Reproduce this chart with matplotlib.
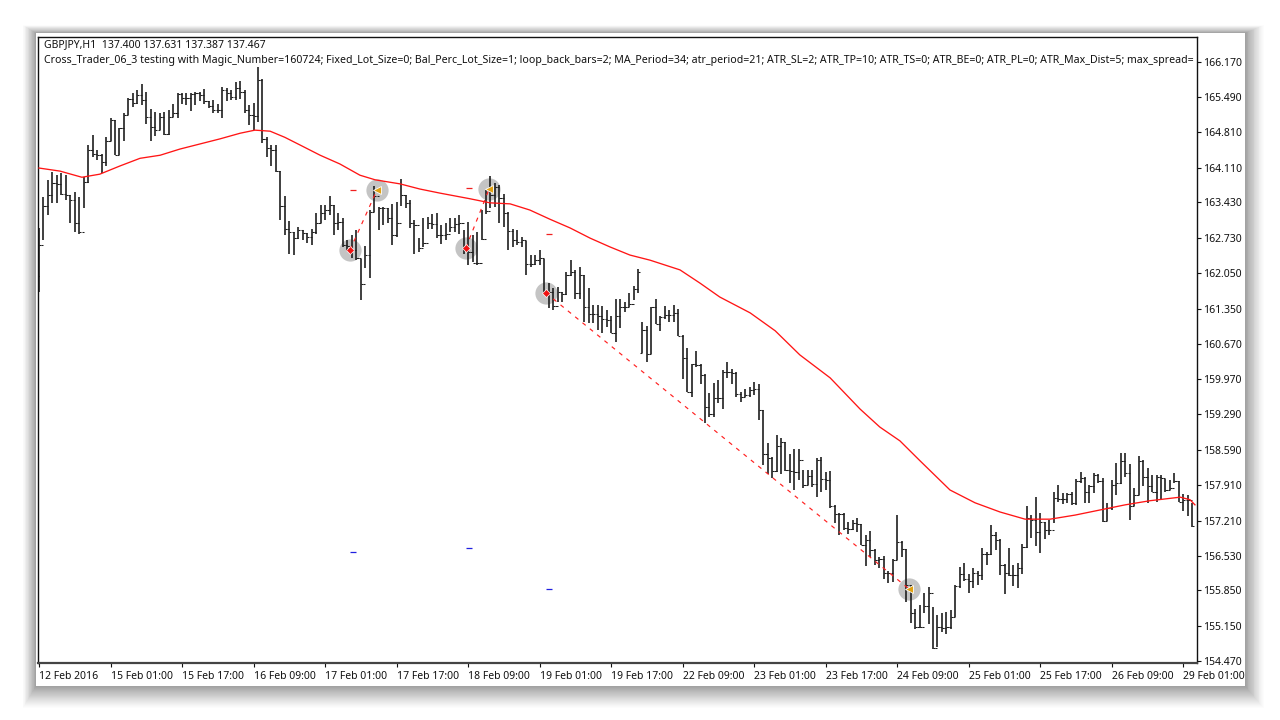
import matplotlib
matplotlib.use("Agg")
import matplotlib.pyplot as plt
from matplotlib.patches import Rectangle
import numpy as np

title_quote = "GBPJPY,H1  137.400 137.631 137.387 137.467"
title_ea = ("Cross_Trader_06_3 testing with Magic_Number=160724; Fixed_Lot_Size=0; Bal_Perc_Lot_Size=1; "
            "loop_back_bars=2; MA_Period=34; atr_period=21; ATR_SL=2; ATR_TP=10; ATR_TS=0; ATR_BE=0; "
            "ATR_PL=0; ATR_Max_Dist=5; max_spread=")

highs = [162.93,163.53,163.87,164.03,163.96,164.00,163.96,163.57,163.64,163.54,
163.93,164.55,164.74,164.46,164.37,164.70,165.07,165.04,164.88,165.17,
165.46,165.56,165.62,165.74,165.59,165.25,165.20,165.18,165.20,165.23,
165.36,165.57,165.56,165.56,165.57,165.58,165.59,165.64,165.40,165.42,
165.36,165.69,165.66,165.62,165.79,165.81,165.62,165.33,165.38,166.07,
165.83,164.70,164.55,164.55,164.05,163.55,163.07,162.86,162.94,162.89,
162.84,162.90,163.23,163.38,163.38,163.55,163.38,163.22,163.12,162.69,
162.79,162.88,162.32,162.57,163.28,163.75,163.34,163.34,163.31,163.40,
163.44,163.88,163.57,163.47,163.09,162.73,163.12,163.15,163.21,163.23,
162.99,163.02,163.12,163.12,163.18,162.89,163.05,162.79,162.85,163.28,
163.67,163.94,163.81,163.77,163.60,163.25,162.90,162.89,162.76,162.68,
162.40,162.40,162.50,162.33,161.85,161.75,161.78,161.68,162.07,162.30,
162.11,162.17,162.01,161.75,161.42,161.42,161.40,161.33,161.20,161.55,
161.55,161.49,161.65,161.79,162.12,161.10,161.01,161.39,161.55,161.21,
161.40,161.32,161.42,161.34,160.84,160.59,160.28,160.53,160.28,160.07,
159.70,159.90,159.96,160.15,160.31,160.18,160.12,159.73,159.79,159.83,
159.92,159.88,159.38,158.72,158.46,158.88,158.82,158.75,158.51,158.62,
158.62,158.20,158.21,158.21,158.43,158.46,158.17,158.19,157.52,157.37,
157.37,157.19,157.22,157.26,157.15,156.93,157.01,156.65,156.51,156.52,
156.23,156.46,157.32,156.82,156.65,155.95,155.48,155.56,155.80,155.92,
155.53,155.37,155.40,155.43,155.47,155.95,156.31,156.38,156.17,156.28,
156.23,156.67,156.60,157.12,156.99,156.86,156.37,156.67,156.35,156.38,
156.76,157.49,157.32,157.68,157.36,157.19,157.23,157.78,157.91,157.75,
157.76,157.78,158.02,158.17,158.06,157.91,158.14,158.12,158.04,157.55,
158.01,158.33,158.54,158.54,158.32,157.85,158.48,158.39,158.24,158.11,
158.11,158.11,158.02,158.01,158.14,157.98,157.74,157.72,157.55]

lows = [161.68,162.70,163.18,163.41,163.41,163.57,163.47,163.02,162.86,162.82,
163.31,163.80,164.32,164.26,164.00,164.13,164.62,164.35,164.35,164.62,
165.14,165.30,165.36,165.33,164.97,164.62,164.73,164.84,164.74,164.74,
165.10,165.07,165.36,165.33,165.22,165.33,165.40,165.36,165.27,165.17,
165.17,165.07,165.40,165.43,165.42,165.44,165.17,164.94,164.84,164.99,
164.58,164.31,164.14,164.03,163.09,162.79,162.43,162.41,162.71,162.69,
162.64,162.60,162.81,163.02,163.09,163.18,162.79,162.89,162.56,162.47,
162.34,162.30,161.53,162.15,161.95,163.25,162.89,162.99,163.02,162.60,
162.76,163.35,163.31,162.92,162.43,162.45,162.56,162.90,162.90,162.73,
162.61,162.69,162.86,162.86,162.82,162.43,162.20,162.27,162.20,162.69,
163.21,163.31,163.34,163.02,162.95,162.50,162.56,162.60,162.56,162.01,
162.17,162.20,162.20,161.65,161.36,161.33,161.49,161.49,161.62,161.99,
161.55,161.55,161.10,161.07,161.07,160.93,160.87,161.00,160.87,160.71,
160.97,161.29,161.39,161.53,161.66,160.48,160.31,160.46,161.06,160.92,
161.16,161.10,161.10,160.82,159.97,159.73,159.62,160.22,159.89,159.12,
159.24,159.23,159.51,159.40,159.99,159.89,159.63,159.53,159.62,159.63,
159.66,159.17,158.30,158.13,158.04,158.17,158.13,158.19,157.94,157.81,
158.00,157.84,157.91,157.87,157.68,157.78,157.81,157.45,157.16,156.93,
157.03,156.96,157.03,156.99,156.73,156.32,156.51,156.34,156.28,156.08,
155.99,156.02,156.44,156.50,155.63,155.22,155.09,155.11,155.40,155.20,
154.70,154.75,155.04,155.00,155.09,155.32,155.89,156.04,155.80,155.89,
155.95,156.05,156.34,156.54,156.64,156.15,155.78,156.12,155.93,155.89,
156.17,156.67,156.87,156.71,156.58,156.85,156.93,157.16,157.57,157.54,
157.55,157.52,157.52,157.94,157.55,157.55,157.75,157.94,157.18,157.20,
157.42,157.72,157.93,158.07,157.23,157.49,157.72,157.88,157.55,157.78,
157.57,157.62,157.78,157.81,157.94,157.57,157.39,157.31,157.08]

closes = [162.60,163.35,163.57,163.80,163.79,163.60,163.58,163.47,163.02,162.86,
163.83,164.45,164.37,164.35,164.22,164.62,165.04,164.35,164.88,165.14,
165.44,165.38,165.53,165.42,165.10,164.91,164.84,165.10,164.76,165.10,
165.18,165.55,165.46,165.46,165.54,165.56,165.53,165.40,165.31,165.23,
165.23,165.62,165.57,165.49,165.66,165.59,165.23,165.14,165.12,165.82,
164.66,164.50,164.46,164.05,163.36,162.90,162.86,162.73,162.89,162.84,
162.76,162.86,163.03,163.22,163.28,163.38,163.03,163.05,162.60,162.58,
162.50,162.35,161.84,162.40,163.24,163.55,163.31,163.31,163.12,162.79,
163.02,163.57,163.41,163.02,162.99,162.53,162.63,163.02,163.00,162.79,
162.79,162.82,162.95,163.00,163.02,162.53,162.45,162.25,162.24,162.71,
163.27,163.57,163.73,163.51,163.23,162.87,162.69,162.66,162.69,162.22,
162.22,162.30,162.35,161.68,161.68,161.40,161.68,161.64,162.01,162.07,
161.65,162.01,161.39,161.25,161.24,161.20,161.16,161.13,160.88,161.20,
161.39,161.39,161.45,161.73,162.07,160.93,160.46,161.38,161.06,161.18,
161.23,161.23,161.26,160.82,160.38,159.73,160.27,160.25,160.05,159.44,
159.29,159.60,159.60,160.12,160.12,160.09,159.68,159.63,159.66,159.77,
159.79,159.37,158.52,158.43,158.19,158.67,158.75,158.20,158.19,158.17,
158.39,157.91,158.08,157.93,158.39,158.02,158.00,157.50,157.35,157.35,
157.06,157.04,157.16,157.15,156.73,156.83,156.64,156.44,156.47,156.19,
156.19,156.44,156.80,156.65,155.95,155.41,155.14,155.14,155.54,155.79,
154.73,155.14,155.12,155.14,155.32,155.93,156.17,156.08,156.04,156.19,
156.15,156.56,156.56,156.93,156.83,156.34,156.18,156.15,156.15,156.28,
156.69,157.26,157.23,156.98,157.18,157.02,157.02,157.65,157.63,157.63,
157.73,157.55,157.99,158.04,157.78,157.88,158.11,157.98,157.20,157.46,
157.91,157.94,158.37,158.14,157.49,157.72,158.37,158.06,157.88,157.78,
158.06,158.04,157.81,157.85,157.98,157.58,157.62,157.62,157.10]

first_open = 162.00
gap_opens = {135: 160.48}   # weekend gap: this bar does not open at the prior close

ma_bars = [0,4.7,9.6,13.6,18.1,22.6,27.1,31.5,36,40.5,45,48.3,51.7,55,58.4,62.9,67.3,71.8,75.2,80.8,85.2,
           89.7,96.4,100.9,105.4,109.8,114.3,118.8,123.3,127.7,132.2,136.7,143.4,147.9,152.3,159.1,164.7,
           170.2,177,183.7,188.1,192.6,197.1,203.8,209.4,215,220.6,226.2,231.8,238.5,243,248.5,255.3,257.5,258.6]
ma_values = [164.10,164.04,163.92,163.98,164.14,164.29,164.35,164.47,164.57,164.67,164.78,164.84,164.82,164.70,
             164.55,164.35,164.18,163.96,163.87,163.79,163.69,163.61,163.50,163.42,163.40,163.28,163.10,162.93,
             162.73,162.56,162.40,162.30,162.11,161.85,161.58,161.27,160.92,160.45,160.00,159.39,159.04,158.77,
             158.38,157.81,157.56,157.38,157.24,157.24,157.32,157.44,157.52,157.60,157.67,157.62,157.52]

entry_bars = [69.6, 95.5, 113.4]
entry_prices = [162.50, 162.54, 161.66]
exit_bars = [75.6, 100.7, 194.6]
exit_prices = [163.67, 163.69, 155.88]
tp_prices = [156.60, 156.68, 155.88]
sl_prices = [163.67, 163.71, 162.81]

y_ticks = [166.170,165.490,164.810,164.110,163.430,162.730,162.050,161.350,160.670,159.970,159.290,
           158.590,157.910,157.210,156.530,155.850,155.150,154.470]
x_tick_labels = ["12 Feb 2016","15 Feb 01:00","15 Feb 17:00","16 Feb 09:00","17 Feb 01:00","17 Feb 17:00",
                 "18 Feb 09:00","19 Feb 01:00","19 Feb 17:00","22 Feb 09:00","23 Feb 01:00","23 Feb 17:00",
                 "24 Feb 09:00","25 Feb 01:00","25 Feb 17:00","26 Feb 09:00","29 Feb 01:00"]
bars_per_x_tick = 16

W, H = 1280, 720
FONT = "Noto Sans"
fig = plt.figure(figsize=(W/100, H/100), dpi=100, facecolor="white")

def box(x0, y0, x1, y1, **kw):
    fig.add_artist(Rectangle((x0/W, 1-y1/H), (x1-x0)/W, (y1-y0)/H, transform=fig.transFigure,
                             lw=0, zorder=-10, **kw))

# window drop shadow, heavier towards the lower right
for k in range(22, 0, -1):
    box(36-k*0.6, 33-k*0.35, 1245+k*0.85, 686+k*1.0, facecolor="black", alpha=0.012 + 0.0006*(22-k))
box(36, 33, 1245, 686, facecolor="white")

ax = fig.add_axes([38/W, 1-663/H, (1197-38)/W, (663-37)/H], facecolor="white")
ax.set_xlim(-0.22, 259.06)
ax.set_ylim(154.43, 166.66)

n = np.arange(len(closes))
h, l, c = np.array(highs), np.array(lows), np.array(closes)
o = np.concatenate(([first_open], c[:-1]))
for k, v in gap_opens.items():
    o[k] = v

ax.plot(entry_bars, entry_prices, ls="", marker="o", ms=16, mfc="#c4c4c4", mec="none", zorder=1)
ax.plot(exit_bars, exit_prices, ls="", marker="o", ms=16, mfc="#c4c4c4", mec="none", zorder=1)

bar_col = "#1f1f1f"
ax.vlines(n, l, h, color=bar_col, lw=1.2, zorder=2)
ax.hlines(c, n, n+0.48, color=bar_col, lw=0.75, zorder=2)
ax.hlines(o, n-0.48, n, color=bar_col, lw=0.75, zorder=2)

ax.plot(ma_bars, ma_values, color="#ff1515", lw=0.95, zorder=3)

for xa, ya, xb, yb in zip(entry_bars, entry_prices, exit_bars, exit_prices):
    ax.plot([xa, xb], [ya, yb], color="#ff2020", lw=0.85, ls=(0, (3.5, 4.5)), zorder=4)
ax.plot(entry_bars, entry_prices, ls="", marker="D", ms=3.6, mfc="#f01010", mec="white", mew=0.5, zorder=5)
ax.plot(exit_bars, exit_prices, ls="", marker="<", ms=5.5, mfc="#e0a010", mec="white", mew=0.6, zorder=5)
dash_x = [b + 0.7 for b in entry_bars]
ax.plot(dash_x, sl_prices, ls="", marker="_", ms=5, mew=0.9, color="#f02020", zorder=5)
ax.plot(dash_x, tp_prices, ls="", marker="_", ms=5, mew=0.9, color="#2020e0", zorder=5)

for s in ax.spines.values():
    s.set_color("#111111"); s.set_linewidth(1.0)
ax.spines["bottom"].set_color("#444444")
ax.spines["bottom"].set_linewidth(1.6)

ax.yaxis.tick_right()
ax.set_yticks(y_ticks)
ax.set_yticklabels([f"{v:.3f}" for v in y_ticks], fontfamily=FONT, fontsize=7.5, color="#111111")
ax.tick_params(axis="y", length=3, width=0.8, pad=1.5, colors="#111111")
ax.set_xticks(n[::bars_per_x_tick])
ax.set_xticklabels(x_tick_labels, fontfamily=FONT, fontsize=7.5, color="#111111", ha="left")
ax.tick_params(axis="x", length=3, width=0.8, pad=2.5, colors="#111111")
ax.text(6/1159, 1-8/626, title_quote, transform=ax.transAxes, fontfamily=FONT, fontsize=7.5,
        va="center", ha="left", color="#111111", clip_on=True, zorder=6)
ax.text(6/1159, 1-23/626, title_ea, transform=ax.transAxes, fontfamily=FONT, fontsize=7.62,
        va="center", ha="left", color="#111111", clip_on=True, zorder=6)

fig.savefig("out.png", dpi=100, facecolor=fig.get_facecolor())
